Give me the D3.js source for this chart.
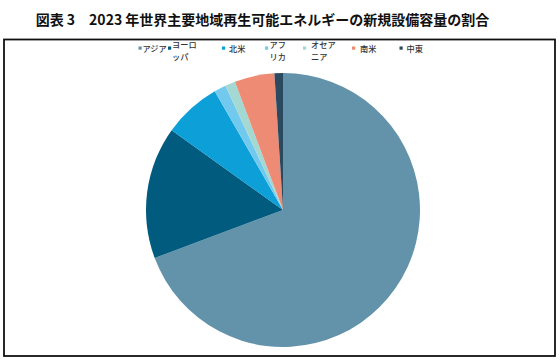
<!DOCTYPE html>
<html><head><meta charset="utf-8">
<script src="https://cdn.jsdelivr.net/npm/d3@7/dist/d3.min.js"></script>
<style>body{margin:0;background:#fff}svg{display:block}</style>
</head><body>
<svg id="c" width="560" height="362"></svg>
<script>
const categories = ["アジア","ヨーロッパ","北米","アフリカ","オセアニア","南米","中東"];
const legendLabels = [["アジア"],["ヨーロ","ッパ"],["北米"],["アフ","リカ"],["オセア","ニア"],["南米"],["中東"]];
const shares = [69.3, 15.6, 6.8, 1.4, 1.2, 4.7, 1.0];
const colors = ["#6393AB","#005B7F","#0C9FD8","#71CAEE","#A3D8D3","#EE8B74","#2B4A60"];
const title = "図表 3　2023 年世界主要地域再生可能エネルギーの新規設備容量の割合";

const svg = d3.select("#c");
const font = "'Noto Sans CJK JP','Noto Sans',sans-serif";

svg.append("text").attr("x", 262.5).attr("y", 24.5).attr("text-anchor","middle")
  .attr("font-family", font).attr("font-weight","bold").attr("font-size", 14)
  .attr("fill","#111").text(title);

svg.append("rect").attr("x",4).attr("y",39.5).attr("width",551).attr("height",316.5)
  .attr("fill","none").attr("stroke","#111").attr("stroke-width",1.8);

const cx = 283, cy = 210, r = 137;
const pie = d3.pie().sort(null).value(d => d.v);
const arc = d3.arc().innerRadius(0).outerRadius(r);
const data = categories.map((c,i)=>({c, v: shares[i], col: colors[i]}));
svg.append("g").attr("transform",`translate(${cx},${cy})`)
  .selectAll("path").data(pie(data)).join("path")
  .attr("d", arc).attr("fill", d => d.data.col);

// legend layout (positions in code, not data)
const markerX = [138.5, 168, 222, 265, 303, 352, 399.5];
const textX   = [142.5, 172, 229, 269.5, 311, 360, 406.5];
const lg = svg.append("g");
data.forEach((d,i)=>{
  lg.append("rect").attr("x", markerX[i]).attr("y", 46.5).attr("width",3.2).attr("height",3.2).attr("fill", d.col);
  const lines = legendLabels[i];
  const ys = lines.length === 1 ? [51.8] : [48.3, 59.8];
  lines.forEach((l,j)=>{
    lg.append("text").attr("font-family", font).attr("font-size", 8.2).attr("font-weight", 500)
      .attr("fill","#333").attr("x", textX[i]).attr("y", ys[j]).text(l);
  });
});
</script>
</body></html>
